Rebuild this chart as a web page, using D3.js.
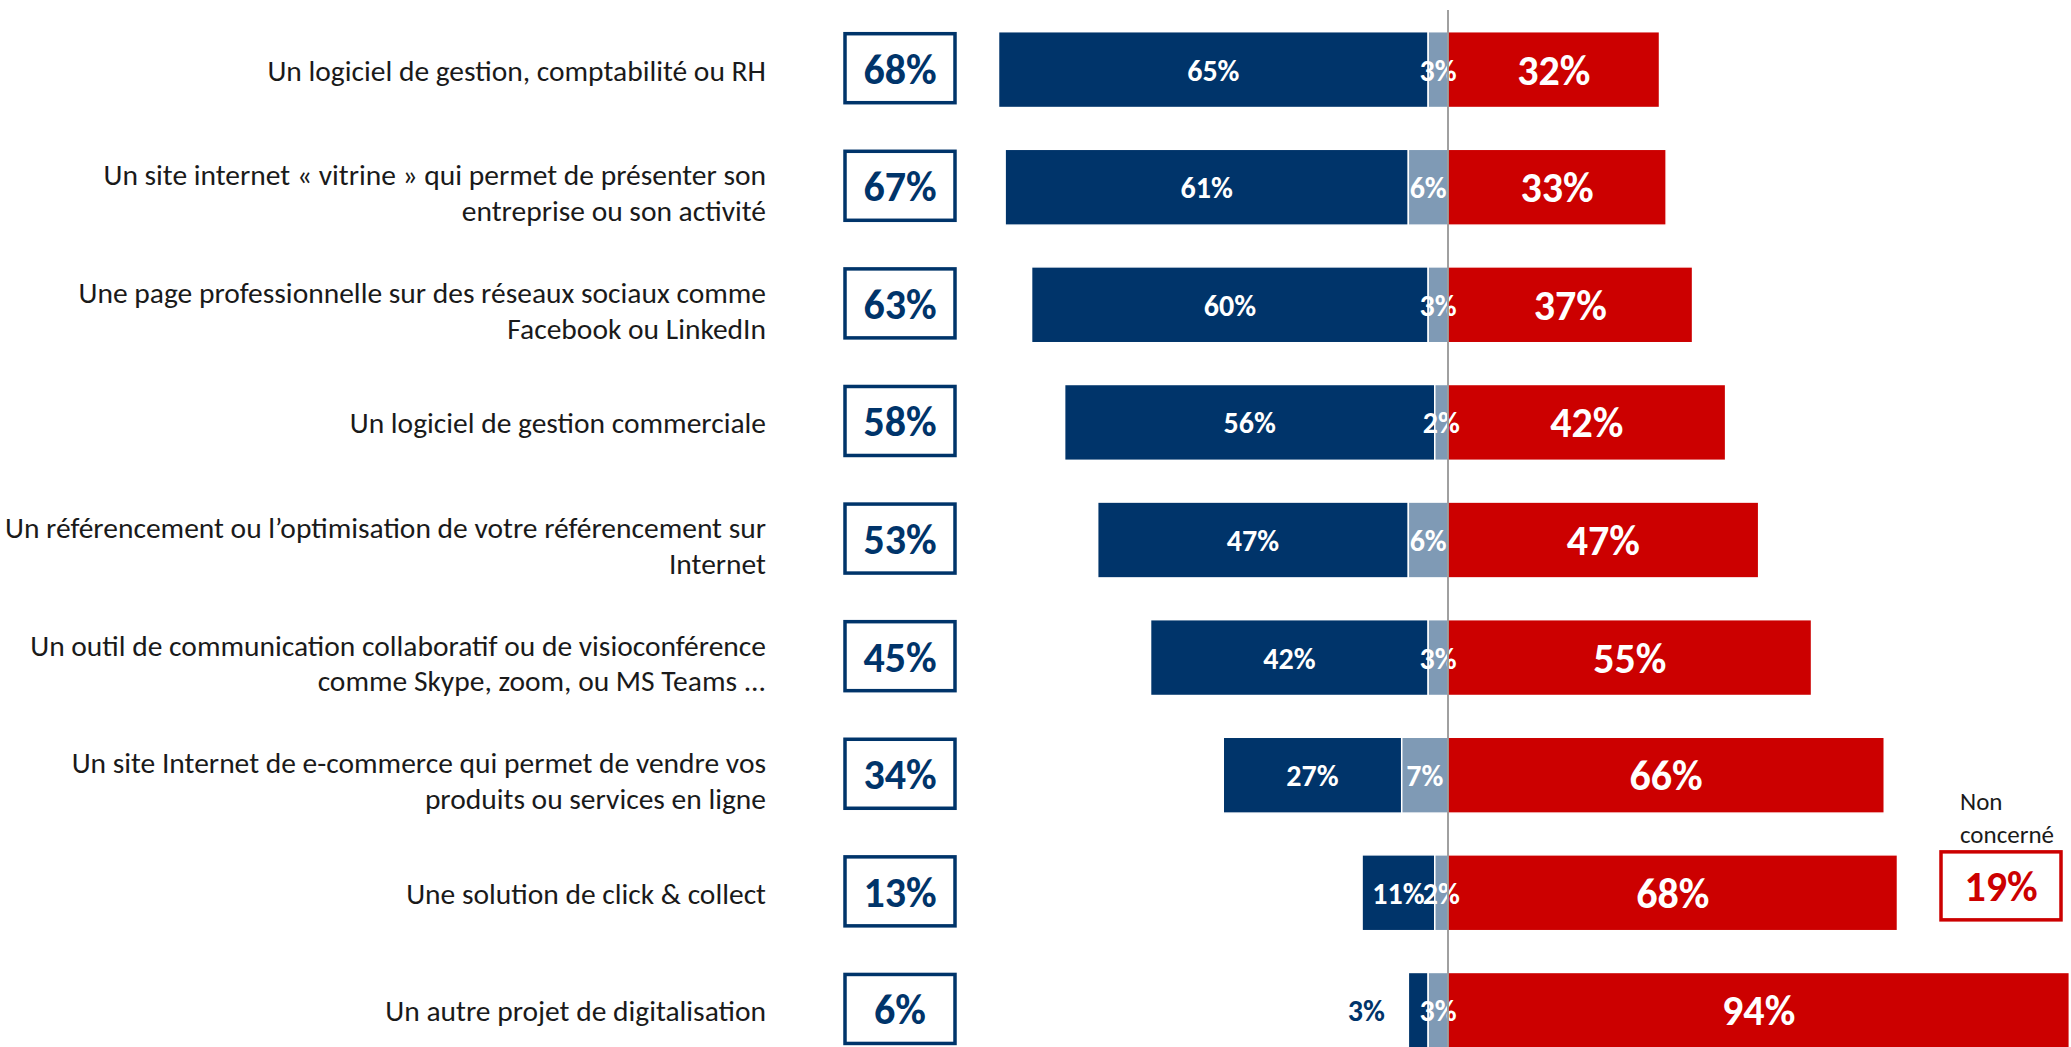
<!DOCTYPE html>
<html>
<head>
<meta charset="utf-8">
<script src="https://cdn.jsdelivr.net/npm/d3@7"></script>
<style>
  body { margin: 0; background: #fff; }
  svg { display: block; font-family: Carlito, "Liberation Sans Narrow", Lato, "Open Sans", sans-serif; }
</style>
</head>
<body>
<script>
// libellés des items (une entrée = une ou deux lignes)
var items = [
    ["Un logiciel de gestion, comptabilité ou RH"],
    ["Un site internet « vitrine » qui permet de présenter son", "entreprise ou son activité"],
    ["Une page professionnelle sur des réseaux sociaux comme", "Facebook ou LinkedIn"],
    ["Un logiciel de gestion commerciale"],
    ["Un référencement ou l’optimisation de votre référencement sur", "Internet"],
    ["Un outil de communication collaboratif ou de visioconférence", "comme Skype, zoom, ou MS Teams ..."],
    ["Un site Internet de e-commerce qui permet de vendre vos", "produits ou services en ligne"],
    ["Une solution de click & collect"],
    ["Un autre projet de digitalisation"]
];
var total = [68, 67, 63, 58, 53, 45, 34, 13, 6];
var oui = [65, 61, 60, 56, 47, 42, 27, 11, 3];
var projet = [3, 6, 3, 2, 6, 3, 7, 2, 3];
var non = [32, 33, 37, 42, 47, 55, 66, 68, 94];
var nonConcerne = [null, null, null, null, null, null, null, 19, null];

var width = 2071;
var height = 1047;
var bleu = "#00346a";
var gris = "#7f9ab5";
var rouge = "#cc0000";

var svg = d3.select("body").append("svg")
    .attr("width", width)
    .attr("height", height);

var zero = 1449;
var x = d3.scaleLinear()
    .domain([-100, 100])
    .range([zero - 662, zero + 660]);

var y = d3.scaleBand()
    .domain(d3.range(items.length))
    .range([31.7, 1048.3])
    .paddingInner(0.355)
    .paddingOuter(0);

var bh = y.bandwidth();

// largeur d'un segment de v %
function w(v) { return Math.abs(x(v) - x(0)); }

var rows = svg.selectAll(".row")
    .data(items)
    .enter()
    .append("g")
    .attr("class", "row")
    .attr("transform", function (d, i) { return "translate(0," + y(i) + ")"; });

// libellés à gauche
rows.each(function (lines, i) {
    var g = d3.select(this);
    var lh = 35.5;
    var y0 = bh / 2 + (lines.length > 1 ? 16 : 11) - (lines.length - 1) * lh / 2;
    lines.forEach(function (l, k) {
        g.append("text")
            .attr("x", 766)
            .attr("y", y0 + k * lh)
            .attr("text-anchor", "end")
            .style("font-size", "29.5px")
            .style("fill", "#1a1a1a")
            .text(l);
    });
});

// cadres du total
rows.append("rect")
    .attr("x", 845)
    .attr("y", 2)
    .attr("width", 110)
    .attr("height", 69)
    .attr("fill", "#fff")
    .attr("stroke", bleu)
    .attr("stroke-width", 3.5);

rows.append("text")
    .attr("x", 900)
    .attr("y", 37 + 15)
    .attr("text-anchor", "middle")
    .style("font-size", "42px")
    .style("font-weight", "bold")
    .style("fill", bleu)
    .text(function (d, i) { return total[i] + "%"; });

// segments
rows.append("rect")
    .attr("x", function (d, i) { return x(-(oui[i] + projet[i])); })
    .attr("width", function (d, i) { return w(oui[i]); })
    .attr("height", bh)
    .attr("fill", bleu)
    .attr("stroke", "#fff")
    .attr("stroke-width", 1.5);

rows.append("rect")
    .attr("x", function (d, i) { return x(-projet[i]); })
    .attr("width", function (d, i) { return x(0) - x(-projet[i]); })
    .attr("height", bh)
    .attr("fill", gris)
    .attr("stroke", "#fff")
    .attr("stroke-width", 1.5);

rows.append("rect")
    .attr("x", x(0))
    .attr("width", function (d, i) { return w(non[i]); })
    .attr("height", bh)
    .attr("fill", rouge)
    .attr("stroke", "#fff")
    .attr("stroke-width", 1.5);

// étiquettes des segments
rows.append("text")
    .attr("x", function (d, i) {
        var left = x(-(oui[i] + projet[i]));
        var bw = x(-projet[i]) - left;
        return bw < 30 ? left - 42 : left + bw / 2;
    })
    .attr("y", bh / 2 + 11)
    .attr("text-anchor", "middle")
    .style("font-size", "30px")
    .style("font-weight", "bold")
    .style("fill", function (d, i) { return w(oui[i]) < 30 ? bleu : "#fff"; })
    .text(function (d, i) { return oui[i] + "%"; });

rows.append("text")
    .attr("x", function (d, i) { return (x(-projet[i]) + x(0)) / 2; })
    .attr("y", bh / 2 + 11)
    .attr("text-anchor", "middle")
    .style("font-size", "30px")
    .style("font-weight", "bold")
    .style("fill", "#fff")
    .text(function (d, i) { return projet[i] + "%"; });

rows.append("text")
    .attr("x", function (d, i) { return x(non[i] / 2); })
    .attr("y", bh / 2 + 15)
    .attr("text-anchor", "middle")
    .style("font-size", "42px")
    .style("font-weight", "bold")
    .style("fill", "#fff")
    .text(function (d, i) { return non[i] + "%"; });

// ligne du zéro
svg.append("line")
    .attr("x1", x(0))
    .attr("x2", x(0))
    .attr("y1", 10)
    .attr("y2", height)
    .attr("stroke", "#808080")
    .attr("stroke-width", 1.5);

// non concerné
rows.filter(function (d, i) { return nonConcerne[i] != null; })
    .each(function (d) {
        var i = items.indexOf(d);
        var g = d3.select(this);
        g.append("text")
            .attr("x", 1960)
            .attr("y", -45)
            .style("font-size", "25px")
            .style("fill", "#1a1a1a")
            .text("Non");
        g.append("text")
            .attr("x", 1960)
            .attr("y", -12)
            .style("font-size", "25px")
            .style("fill", "#1a1a1a")
            .text("concerné");
        g.append("rect")
            .attr("x", 1941)
            .attr("y", -3)
            .attr("width", 120)
            .attr("height", 68)
            .attr("fill", "#fff")
            .attr("stroke", rouge)
            .attr("stroke-width", 3.5);
        g.append("text")
            .attr("x", 2001)
            .attr("y", 31 + 15)
            .attr("text-anchor", "middle")
            .style("font-size", "42px")
            .style("font-weight", "bold")
            .style("fill", rouge)
            .text(nonConcerne[i] + "%");
    });
</script>
</body>
</html>
